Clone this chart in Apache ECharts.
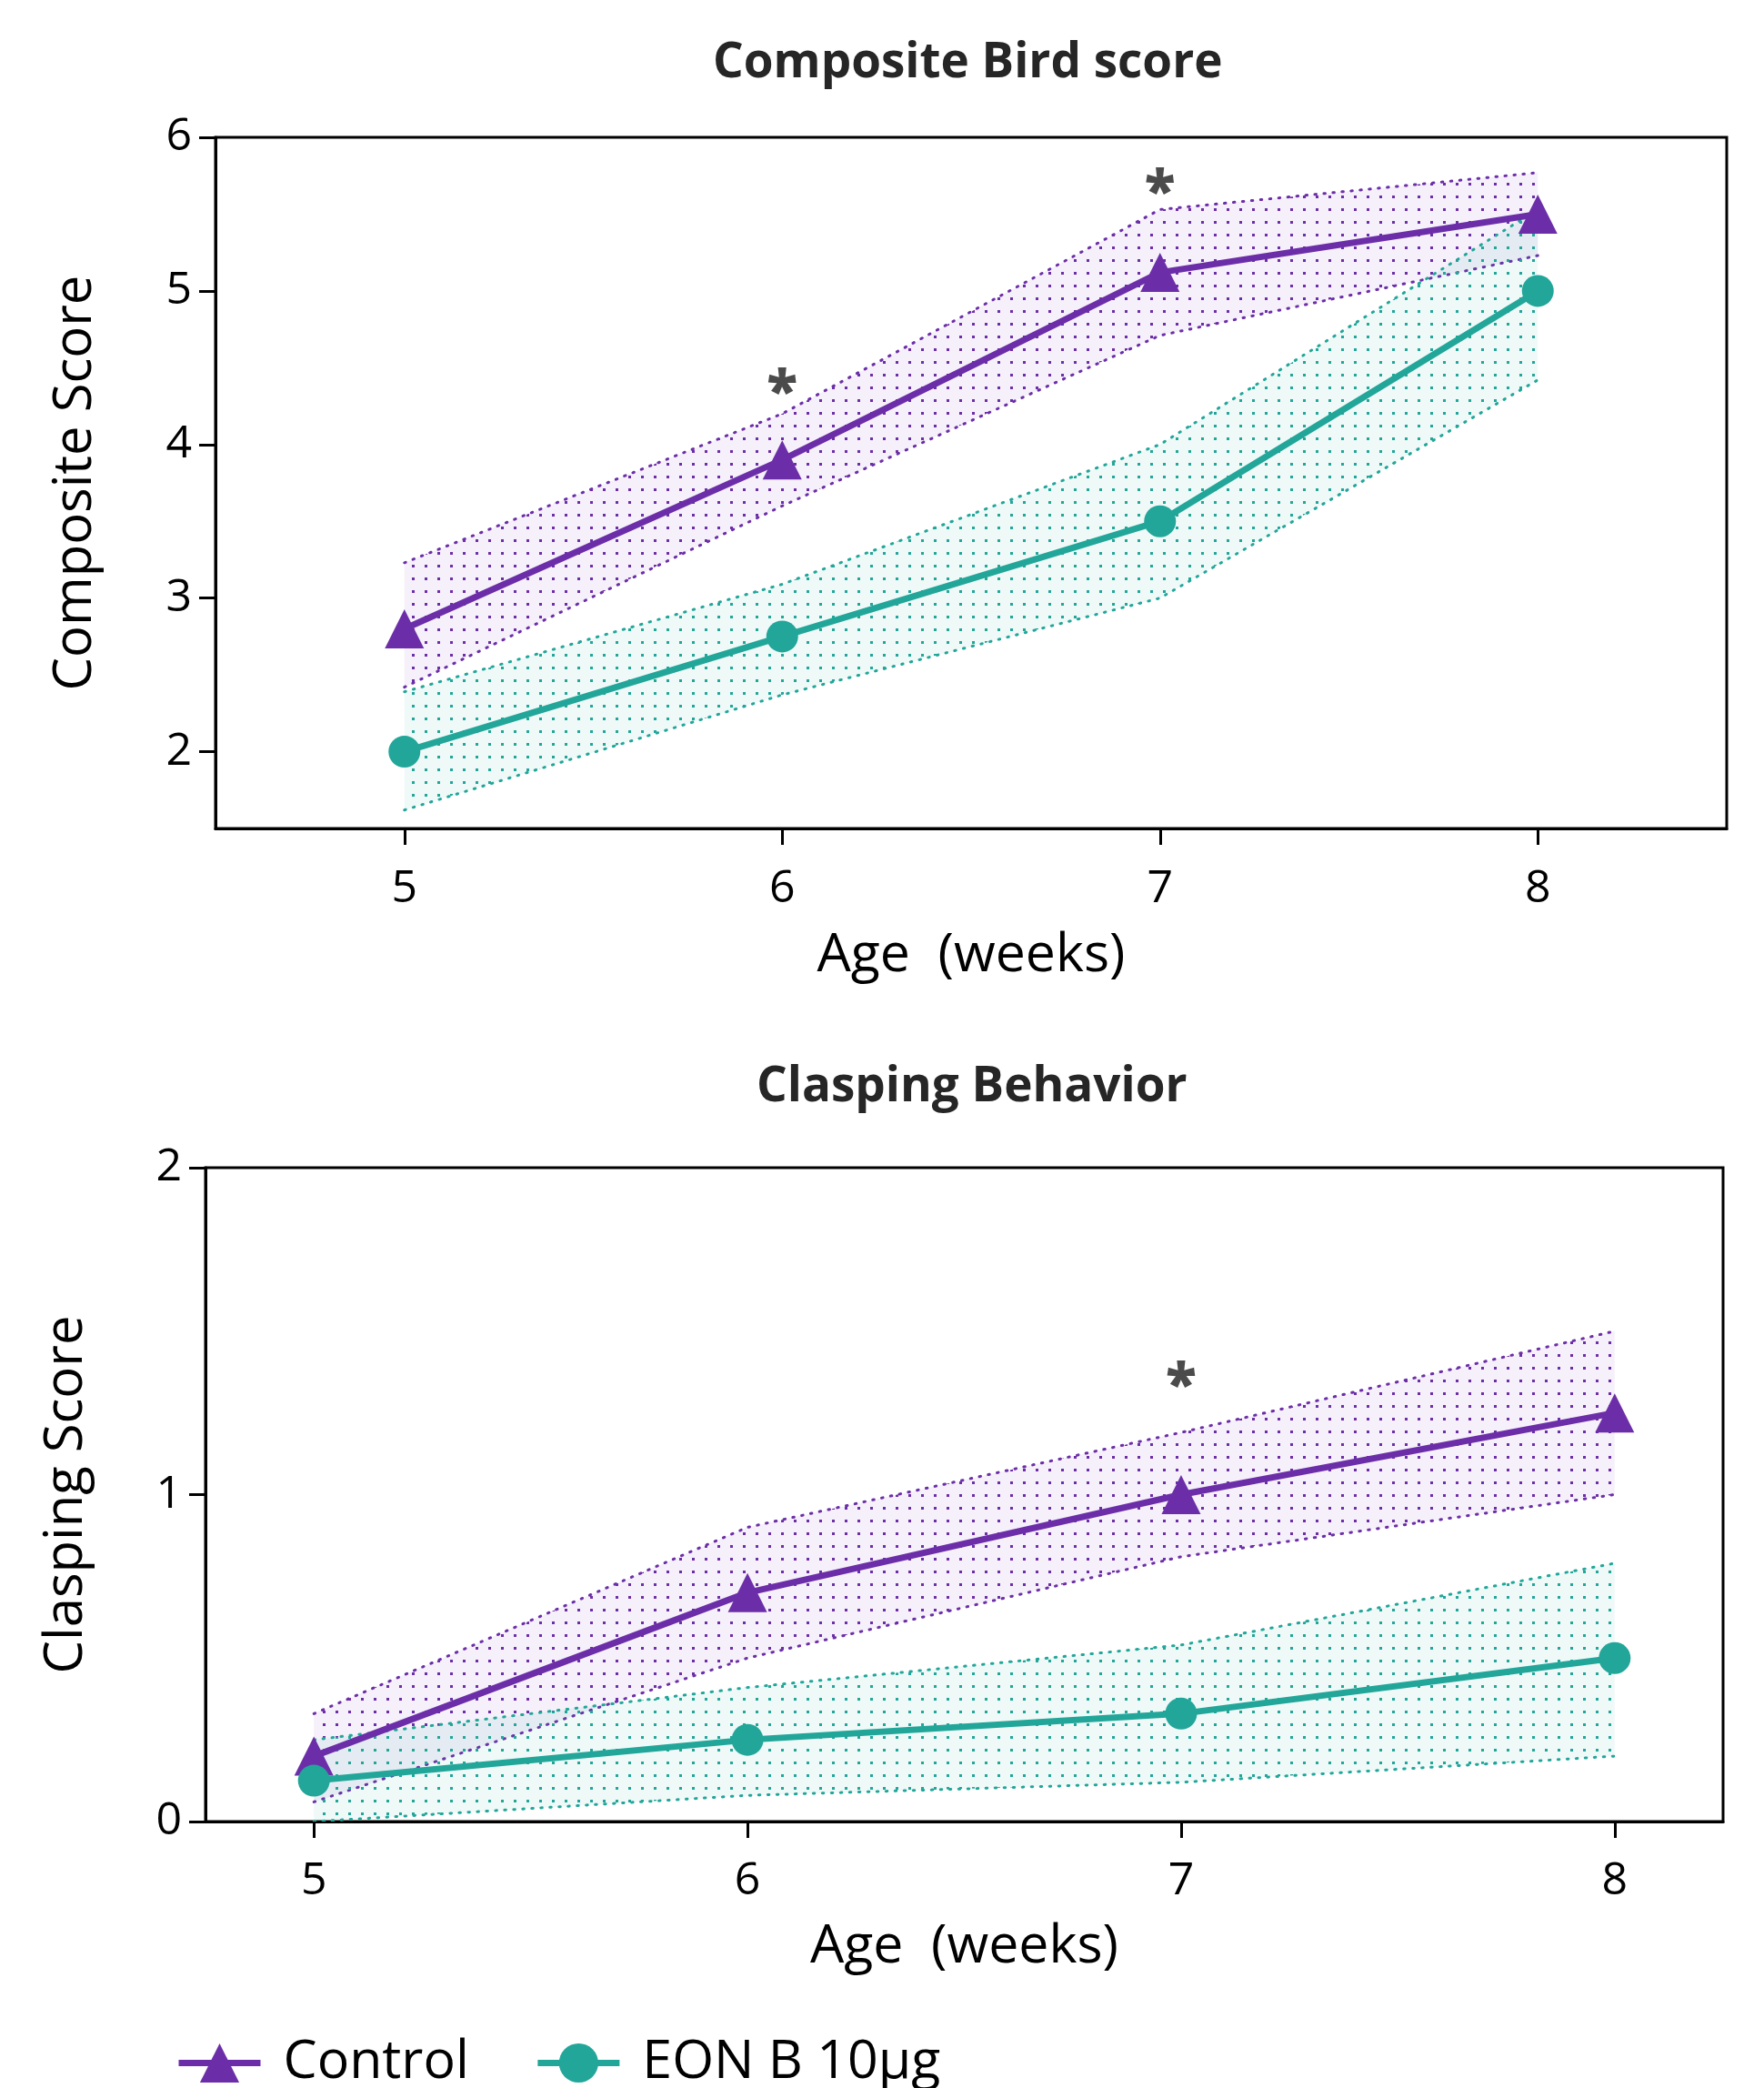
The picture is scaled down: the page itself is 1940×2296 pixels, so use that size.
<!DOCTYPE html>
<html><head><meta charset="utf-8">
<script src="https://cdn.jsdelivr.net/npm/echarts@6/dist/echarts.min.js"></script>
<style>html,body{margin:0;padding:0;background:#fff}#c{width:1940px;height:2296px}</style>
</head><body><div id="c"></div>
<script>
// ---- data ----
const weeks = [5, 6, 7, 8];
const xTicks = [5, 6, 7, 8];
const compYTicks = [2, 3, 4, 5, 6];
const claspYTicks = [0, 1, 2];
// Composite Bird score
const compControl = [2.8, 3.9, 5.12, 5.5];
const compControlUpper = [3.23, 4.2, 5.53, 5.77];
const compControlLower = [2.42, 3.6, 4.71, 5.23];
const compEon = [2.0, 2.75, 3.5, 5.0];
const compEonUpper = [2.39, 3.09, 4.0, 5.53];
const compEonLower = [1.62, 2.37, 3.0, 4.42];
const compStars = [[6, 4.42], [7, 5.72]];
// Clasping Behavior
const claspControl = [0.2, 0.7, 1.0, 1.25];
const claspControlUpper = [0.33, 0.9, 1.19, 1.5];
const claspControlLower = [0.06, 0.5, 0.81, 1.0];
const claspEon = [0.125, 0.25, 0.33, 0.5];
const claspEonUpper = [0.25, 0.41, 0.54, 0.79];
const claspEonLower = [0.0, 0.08, 0.12, 0.2];
const claspStars = [[7, 1.37]];

const PURPLE = '#6C2EA8';
const TEAL = '#22A699';
const FONT = '"Open Sans", "Noto Sans", sans-serif';

function makePattern(dot, bg) {
  const c = document.createElement('canvas');
  c.width = 14; c.height = 14;
  const g = c.getContext('2d');
  g.fillStyle = bg; g.fillRect(0, 0, 14, 14);
  g.fillStyle = dot; g.fillRect(5, 5, 3, 3);
  return c;
}
const purplePattern = makePattern(PURPLE, 'rgba(108,46,168,0.07)');
const tealPattern = makePattern(TEAL, 'rgba(34,166,153,0.07)');

function pairs(vals) { return weeks.map((w, i) => [w, vals[i]]); }

function band(idx, lower, upper, color, pattern) {
  const edgeStyle = { fill: null, stroke: color, lineWidth: 3, lineDash: [1.5, 8.5], lineCap: 'round' };
  return {
    type: 'custom', xAxisIndex: idx, yAxisIndex: idx, silent: true, z: 1, clip: true,
    data: weeks.map((w, i) => [w, lower[i], upper[i]]),
    encode: { x: 0, y: [1, 2] },
    renderItem: function (params, api) {
      if (params.dataIndex !== 0) return null;
      const up = weeks.map((w, i) => api.coord([w, upper[i]]));
      const lo = weeks.map((w, i) => api.coord([w, lower[i]]));
      const poly = up.concat(lo.slice().reverse());
      return { type: 'group', children: [
        { type: 'polygon', shape: { points: poly }, style: { fill: { image: pattern, repeat: 'repeat' }, stroke: null } },
        { type: 'polyline', shape: { points: up }, style: Object.assign({}, edgeStyle) },
        { type: 'polyline', shape: { points: lo }, style: Object.assign({}, edgeStyle) }
      ] };
    }
  };
}
function mainLine(idx, name, vals, color, symbol, size) {
  return { type: 'line', name: name, xAxisIndex: idx, yAxisIndex: idx, data: pairs(vals),
    symbol: symbol, symbolSize: size, showAllSymbol: true,
    lineStyle: { color: color, width: 7 }, itemStyle: { color: color }, z: 5 };
}
function stars(idx, data) {
  return { type: 'scatter', xAxisIndex: idx, yAxisIndex: idx, data: data, symbolSize: 1,
    itemStyle: { color: 'rgba(0,0,0,0)' }, silent: true, z: 6,
    label: { show: true, position: 'inside', formatter: '*', fontSize: 62, fontWeight: 800,
      color: '#1e1e1e', fontFamily: FONT, offset: [0, 15] } };
}
function xAxis(idx, min, max, gap, margin) {
  return { gridIndex: idx, type: 'value', min: min, max: max,
    axisLine: { onZero: false, lineStyle: { color: '#000', width: 3 } },
    axisTick: { show: true, length: 18, customValues: xTicks, lineStyle: { color: '#000', width: 3 } },
    axisLabel: { customValues: xTicks, fontSize: 50, color: '#000', margin: margin, fontFamily: FONT },
    splitLine: { show: false },
    name: 'Age  (weeks)', nameLocation: 'middle', nameGap: gap,
    nameTextStyle: { fontSize: 59, color: '#000', fontFamily: FONT } };
}
function yAxis(idx, min, max, ticks, name, gap) {
  return { gridIndex: idx, type: 'value', min: min, max: max,
    axisLine: { show: true, onZero: false, lineStyle: { color: '#000', width: 3 } },
    axisTick: { show: true, length: 18, customValues: ticks, lineStyle: { color: '#000', width: 3 } },
    axisLabel: { customValues: ticks, fontSize: 50, color: '#000', margin: 26, fontFamily: FONT },
    splitLine: { show: false },
    name: name, nameLocation: 'middle', nameGap: gap,
    nameTextStyle: { fontSize: 58, color: '#000', fontFamily: FONT } };
}

const option = {
  animation: false,
  backgroundColor: '#fff',
  title: [
    { text: 'Composite Bird score', left: 779, top: 38,
      textStyle: { fontSize: 53, fontWeight: 'bold', color: '#262626', fontFamily: FONT } },
    { text: 'Clasping Behavior', left: 827, top: 1164,
      textStyle: { fontSize: 53, fontWeight: 'bold', color: '#262626', fontFamily: FONT } }
  ],
  legend: {
    data: ['Control', 'EON B 10μg'], left: 188, top: 2234, itemWidth: 90, itemHeight: 54, itemGap: 72,
    lineStyle: { width: 7 },
    textStyle: { fontSize: 59, color: '#000', fontFamily: FONT, padding: [0, 0, 0, 20] }
  },
  grid: [
    { left: 237, right: 41, top: 151, height: 760, show: true, borderColor: '#000', borderWidth: 3, backgroundColor: 'transparent' },
    { left: 226, right: 45, top: 1284, height: 719, show: true, borderColor: '#000', borderWidth: 3, backgroundColor: 'transparent' }
  ],
  xAxis: [xAxis(0, 4.5, 8.5, 111, 42), xAxis(1, 4.75, 8.25, 109, 41)],
  yAxis: [yAxis(0, 1.5, 6, compYTicks, 'Composite Score', 125), yAxis(1, 0, 2, claspYTicks, 'Clasping Score', 124)],
  series: [
    band(0, compControlLower, compControlUpper, PURPLE, purplePattern),
    band(0, compEonLower, compEonUpper, TEAL, tealPattern),
    band(1, claspControlLower, claspControlUpper, PURPLE, purplePattern),
    band(1, claspEonLower, claspEonUpper, TEAL, tealPattern),
    mainLine(0, 'Control', compControl, PURPLE, 'triangle', 43),
    mainLine(0, 'EON B 10μg', compEon, TEAL, 'circle', 35),
    mainLine(1, 'Control', claspControl, PURPLE, 'triangle', 43),
    mainLine(1, 'EON B 10μg', claspEon, TEAL, 'circle', 35),
    stars(0, compStars),
    stars(1, claspStars)
  ]
};
const chart = echarts.init(document.getElementById('c'), null, { renderer: 'canvas' });
chart.setOption(option);
</script>
</body></html>
